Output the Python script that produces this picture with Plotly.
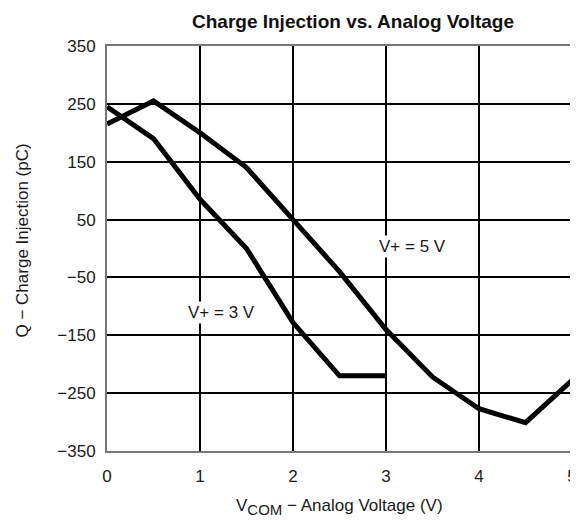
import plotly.graph_objects as go

x5 = [0, 0.5, 1, 1.5, 2, 2.5, 3, 3.5, 4, 4.5, 5]
q5 = [215, 255, 200, 140, 50, -40, -140, -222, -277, -301, -228]
x3 = [0, 0.5, 1, 1.5, 2, 2.5, 3]
q3 = [245, 190, 85, 0, -128, -220, -220]
ytick_vals = [-350, -250, -150, -50, 50, 150, 250, 350]
xtick_vals = [0, 1, 2, 3, 4, 5]
labels = [("V+ = 3 V", 1.23, -111), ("V+ = 5 V", 3.28, 3)]

FONT = "Liberation Sans, Arial, Helvetica, sans-serif"
TXT = "#1a1a1a"
OFF = 8  # page body margin offset

fig = go.Figure()
fig.add_trace(go.Scatter(x=x5, y=q5, mode="lines", line=dict(color="black", width=5), showlegend=False))
fig.add_trace(go.Scatter(x=x3, y=q3, mode="lines", line=dict(color="black", width=5), showlegend=False))

for txt, ax, ay in labels:
    fig.add_annotation(x=ax, y=ay, text=txt, showarrow=False, bgcolor="white",
                       font=dict(family=FONT, size=17, color=TXT), borderpad=1)

# axis titles
fig.add_annotation(xref="paper", yref="paper", x=0.5, y=0, yanchor="top", yshift=-44,
                   text="V<sub><span style='font-size:15px'>COM</span></sub> − Analog Voltage (V)",
                   showarrow=False, font=dict(family=FONT, size=17, color=TXT), borderpad=0)
fig.add_annotation(xref="paper", yref="paper", x=0, y=0.5, xanchor="center", yanchor="middle",
                   xshift=-85, yshift=8, textangle=-90,
                   text="Q − Charge Injection (pC)", showarrow=False,
                   font=dict(family=FONT, size=17, color=TXT))

fig.update_layout(
    width=578, height=520,
    margin=dict(l=107 - OFF, r=6 + OFF, t=46 - OFF, b=69 + OFF, autoexpand=False),
    paper_bgcolor="white", plot_bgcolor="white",
    font=dict(family=FONT, size=17, color=TXT),
    title=dict(text="<b>Charge Injection vs. Analog Voltage</b>", x=(192 - OFF) / 578, xanchor="left",
               y=1 - (21.5 - OFF) / 520, yanchor="middle", font=dict(family=FONT, size=19, color="#111")),
)
fig.update_xaxes(range=[0, 5], tickvals=xtick_vals, showgrid=True, gridcolor="black", gridwidth=1.6,
                 zeroline=False, showline=True, linecolor="#777", linewidth=2, mirror=True,
                 ticks="", ticklabelstandoff=9, ticklabeloverflow="allow", automargin=False)
fig.update_yaxes(range=[-350, 350], tickvals=ytick_vals, showgrid=True, gridcolor="black", gridwidth=1.6,
                 zeroline=False, showline=True, linecolor="#777", linewidth=2, mirror=True,
                 ticks="", ticklabelstandoff=6, automargin=False)

fig.write_html("out.html")
